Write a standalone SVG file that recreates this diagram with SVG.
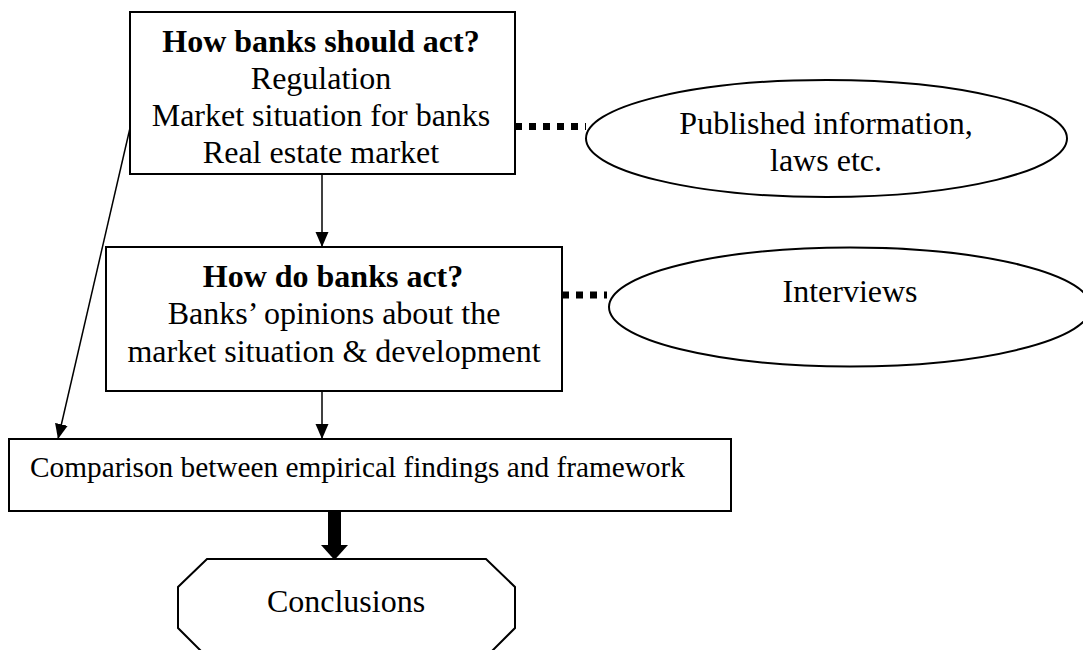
<svg xmlns="http://www.w3.org/2000/svg" width="1083" height="650" viewBox="0 0 1083 650">
<style>
  .shape { fill: #ffffff; stroke: #000000; stroke-width: 2; }
  .t { font-family: "Liberation Serif", "Times New Roman", serif; font-size: 32px; fill: #000000; text-anchor: middle; }
  .b { font-weight: bold; }
  .conn { stroke: #000000; stroke-width: 1.5; fill: none; }
  .dots { stroke: #000000; stroke-width: 7; stroke-dasharray: 7 7; fill: none; }
</style>
<defs>
  <marker id="arr" markerUnits="userSpaceOnUse" markerWidth="16" markerHeight="14" refX="15" refY="6.5" orient="auto">
    <path d="M0,0 L15,6.5 L0,13 z" fill="#000000"/>
  </marker>
</defs>
<rect width="1083" height="650" fill="#ffffff"/>

<g id="connectors">
  <line class="conn" x1="322" y1="174" x2="322" y2="247" marker-end="url(#arr)"/>
  <line class="conn" x1="322" y1="391" x2="322" y2="439" marker-end="url(#arr)"/>
  <line class="conn" x1="130" y1="128" x2="58" y2="439" marker-end="url(#arr)"/>
  <line class="dots" x1="515" y1="126.5" x2="586" y2="126.5"/>
  <line class="dots" x1="562" y1="295" x2="607" y2="295"/>
  <g id="thick-arrow">
    <rect x="328" y="511" width="13" height="35" fill="#000000"/>
    <polygon points="321,545 348,545 334.5,560" fill="#000000"/>
  </g>
</g>

<g id="node-should">
  <rect class="shape" x="130" y="12" width="385" height="162"/>
  <text class="t b" x="321" y="52">How banks should act?</text>
  <text class="t" x="321" y="89">Regulation</text>
  <text class="t" x="321" y="126">Market situation for banks</text>
  <text class="t" x="321" y="163">Real estate market</text>
</g>

<g id="node-published">
  <ellipse class="shape" cx="826.5" cy="138.5" rx="240.5" ry="58.5"/>
  <text class="t" x="826" y="134">Published information,</text>
  <text class="t" x="826" y="171">laws etc.</text>
</g>

<g id="node-do">
  <rect class="shape" x="106" y="247" width="456" height="144"/>
  <text class="t b" x="333" y="287">How do banks act?</text>
  <text class="t" x="334" y="324">Banks’ opinions about the</text>
  <text class="t" x="334" y="362">market situation &amp; development</text>
</g>

<g id="node-interviews">
  <ellipse class="shape" cx="850" cy="307" rx="241" ry="59.5"/>
  <text class="t" x="850" y="302">Interviews</text>
</g>

<g id="node-comparison">
  <rect class="shape" x="9" y="439" width="722" height="72"/>
  <text class="t" style="text-anchor:start;font-size:29.3px" x="30" y="477">Comparison between empirical findings and framework</text>
</g>

<g id="node-conclusions">
  <polygon class="shape" points="207,559 486,559 515,587 515,628 486,657 207,657 178,628 178,587"/>
  <text class="t" x="346" y="612">Conclusions</text>
</g>
</svg>
